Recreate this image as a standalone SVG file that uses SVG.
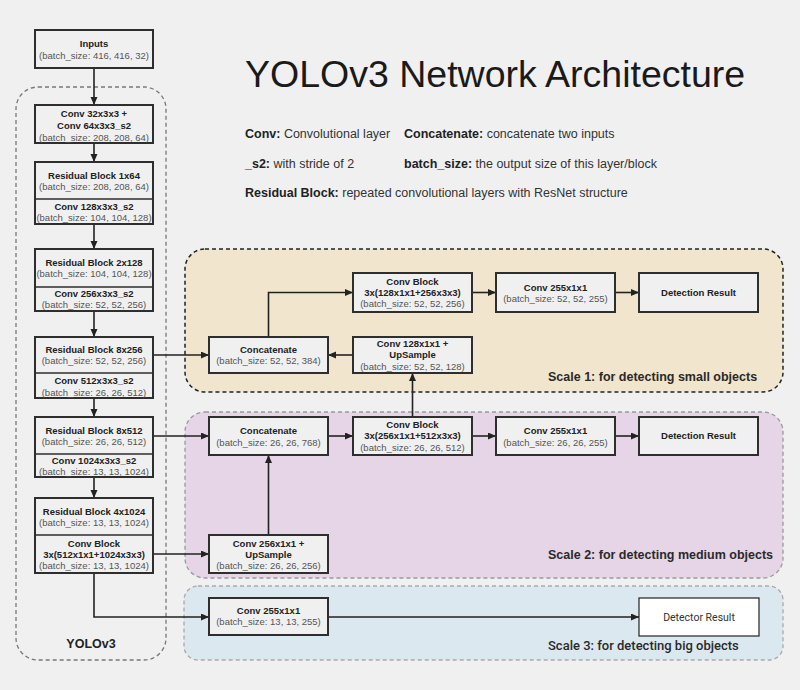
<svg xmlns="http://www.w3.org/2000/svg" width="800" height="690" viewBox="0 0 800 690">
  <style>
    .bg { fill: #f0f0f0; }
    .box { fill: #f0f0f0; stroke: #2e2e2e; stroke-width: 2; }
    .div { stroke: #2e2e2e; stroke-width: 1.6; }
    .t { font-family: "Liberation Sans", Arial, sans-serif; font-size: 9.5px; font-weight: bold; fill: #222; text-anchor: middle; }
    .s { font-family: "Liberation Sans", Arial, sans-serif; font-size: 9.5px; fill: #555; text-anchor: middle; }
    .lg { font-family: "Liberation Sans", Arial, sans-serif; font-size: 12.5px; fill: #333; }
    .lgb { font-weight: bold; fill: #222; }
    .title { font-family: "Liberation Sans", Arial, sans-serif; font-size: 37.5px; fill: #1a1a1a; }
    .scl { font-family: "Liberation Sans", Arial, sans-serif; font-size: 12.5px; font-weight: bold; fill: #2a2a2a; }
    .wire { fill: none; stroke: #222; stroke-width: 1.6; }
  </style>
  <defs>
    <marker id="arrow" markerUnits="userSpaceOnUse" markerWidth="9" markerHeight="8" refX="8" refY="3.5" orient="auto">
      <path d="M0,0 L8,3.5 L0,7 Z" fill="#222"/>
    </marker>
  </defs>

  <rect class="bg" x="0" y="0" width="800" height="690"/>

  <!-- grouping panels -->
  <g id="yolov3-panel">
    <rect x="16" y="87" width="150" height="573" rx="22" fill="none" stroke="#777" stroke-width="1.3" stroke-dasharray="4,3"/>
    <text x="91" y="648" font-family="Liberation Sans, Arial, sans-serif" font-size="12.5" font-weight="bold" fill="#222" text-anchor="middle">YOLOv3</text>
  </g>
  <g id="scale1-panel">
    <rect x="185" y="249" width="598" height="143" rx="20" fill="#f1e5cd" stroke="#222" stroke-width="1.5" stroke-dasharray="4,3"/>
    <text class="scl" x="548" y="381">Scale 1: for detecting small objects</text>
  </g>
  <g id="scale2-panel">
    <rect x="185" y="412" width="598" height="166" rx="20" fill="#e5d5e7" stroke="#999" stroke-width="1.3" stroke-dasharray="4,3"/>
    <text class="scl" x="548" y="559">Scale 2: for detecting medium objects</text>
  </g>
  <g id="scale3-panel">
    <rect x="184" y="586" width="599" height="74" rx="14" fill="#dbe8f0" stroke="#aaa" stroke-width="1.3" stroke-dasharray="4,3"/>
    <text x="548" y="650" font-family="Roboto, 'Liberation Sans', sans-serif" font-size="13" font-weight="500" fill="#2a2a2a">Scale 3: for detecting big objects</text>
  </g>

  <!-- title and legend -->
  <g id="legend">
    <text class="title" x="245" y="87">YOLOv3 Network Architecture</text>
    <text class="lg" x="245" y="138"><tspan class="lgb">Conv:</tspan> Convolutional layer</text>
    <text class="lg" x="404" y="138"><tspan class="lgb">Concatenate:</tspan> concatenate two inputs</text>
    <text class="lg" x="245" y="168"><tspan class="lgb">_s2:</tspan> with stride of 2</text>
    <text class="lg" x="404" y="168"><tspan class="lgb">batch_size:</tspan> the output size of this layer/block</text>
    <text class="lg" x="245" y="197"><tspan class="lgb">Residual Block:</tspan> repeated convolutional layers with ResNet structure</text>
  </g>

  <!-- connectors -->
  <g id="connectors" class="wire" marker-end="url(#arrow)">
    <path d="M94,68 V105"/>
    <path d="M94,143 V162"/>
    <path d="M94,224 V249"/>
    <path d="M94,311 V337"/>
    <path d="M94,398 V417"/>
    <path d="M94,477 V498"/>
    <path d="M153,355 H209"/>
    <path d="M268.5,337 V292.5 H353"/>
    <path d="M472,292.5 H496"/>
    <path d="M615,292.5 H639"/>
    <path d="M353,355 H328"/>
    <path d="M412.5,417 V373"/>
    <path d="M153,436 H209"/>
    <path d="M328,436 H353"/>
    <path d="M472,436 H496"/>
    <path d="M615,436 H639"/>
    <path d="M268.5,535 V455"/>
    <path d="M153,554 H209"/>
    <path d="M94,573 V617 H209"/>
    <path d="M328,617 H639"/>
  </g>

  <!-- backbone -->
  <g id="inputs">
    <rect class="box" x="35" y="30" width="118" height="38"/>
    <text class="t" x="94" y="46.5">Inputs</text>
    <text class="s" x="94" y="58.5">(batch_size: 416, 416, 32)</text>
  </g>
  <g id="conv-32-64">
    <rect class="box" x="35" y="105" width="118" height="38"/>
    <text class="t" x="94" y="116.5">Conv 32x3x3 +</text>
    <text class="t" x="94" y="128.5">Conv 64x3x3_s2</text>
    <text class="s" x="94" y="140.5">(batch_size: 208, 208, 64)</text>
  </g>
  <g id="res-1x64">
    <rect class="box" x="35" y="162" width="118" height="62"/>
    <line class="div" x1="35" y1="199" x2="153" y2="199"/>
    <text class="t" x="94" y="178.5">Residual Block 1x64</text>
    <text class="s" x="94" y="189.5">(batch_size: 208, 208, 64)</text>
    <text class="t" x="94" y="209.5">Conv 128x3x3_s2</text>
    <text class="s" x="94" y="220.5">(batch_size: 104, 104, 128)</text>
  </g>
  <g id="res-2x128">
    <rect class="box" x="35" y="249" width="118" height="62"/>
    <line class="div" x1="35" y1="287" x2="153" y2="287"/>
    <text class="t" x="94" y="266">Residual Block 2x128</text>
    <text class="s" x="94" y="277">(batch_size: 104, 104, 128)</text>
    <text class="t" x="94" y="296.5">Conv 256x3x3_s2</text>
    <text class="s" x="94" y="307.5">(batch_size: 52, 52, 256)</text>
  </g>
  <g id="res-8x256">
    <rect class="box" x="35" y="337" width="118" height="61"/>
    <line class="div" x1="35" y1="373" x2="153" y2="373"/>
    <text class="t" x="94" y="352.5">Residual Block 8x256</text>
    <text class="s" x="94" y="364">(batch_size: 52, 52, 256)</text>
    <text class="t" x="94" y="384">Conv 512x3x3_s2</text>
    <text class="s" x="94" y="395.5">(batch_size: 26, 26, 512)</text>
  </g>
  <g id="res-8x512">
    <rect class="box" x="35" y="417" width="118" height="60"/>
    <line class="div" x1="35" y1="454" x2="153" y2="454"/>
    <text class="t" x="94" y="434">Residual Block 8x512</text>
    <text class="s" x="94" y="445">(batch_size: 26, 26, 512)</text>
    <text class="t" x="94" y="464">Conv 1024x3x3_s2</text>
    <text class="s" x="94" y="475">(batch_size: 13, 13, 1024)</text>
  </g>
  <g id="res-4x1024">
    <rect class="box" x="35" y="498" width="118" height="75"/>
    <line class="div" x1="35" y1="535" x2="153" y2="535"/>
    <text class="t" x="94" y="515">Residual Block 4x1024</text>
    <text class="s" x="94" y="526">(batch_size: 13, 13, 1024)</text>
    <text class="t" x="94" y="546.5">Conv Block</text>
    <text class="t" x="94" y="557.5">3x(512x1x1+1024x3x3)</text>
    <text class="s" x="94" y="569">(batch_size: 13, 13, 1024)</text>
  </g>

  <!-- scale 1 -->
  <g id="s1-concat">
    <rect class="box" x="209" y="337" width="119" height="36"/>
    <text class="t" x="268.5" y="352.5">Concatenate</text>
    <text class="s" x="268.5" y="364">(batch_size: 52, 52, 384)</text>
  </g>
  <g id="s1-convblock">
    <rect class="box" x="353" y="273" width="119" height="39"/>
    <text class="t" x="412.5" y="285">Conv Block</text>
    <text class="t" x="412.5" y="296">3x(128x1x1+256x3x3)</text>
    <text class="s" x="412.5" y="307.3">(batch_size: 52, 52, 256)</text>
  </g>
  <g id="s1-upsample">
    <rect class="box" x="353" y="337" width="119" height="36"/>
    <text class="t" x="412.5" y="347.3">Conv 128x1x1 +</text>
    <text class="t" x="412.5" y="358.3">UpSample</text>
    <text class="s" x="412.5" y="370">(batch_size: 52, 52, 128)</text>
  </g>
  <g id="s1-conv255">
    <rect class="box" x="496" y="273" width="119" height="39"/>
    <text class="t" x="555.5" y="290.5">Conv 255x1x1</text>
    <text class="s" x="555.5" y="301.5">(batch_size: 52, 52, 255)</text>
  </g>
  <g id="s1-result">
    <rect class="box" x="639" y="273" width="119" height="39"/>
    <text class="t" x="698.5" y="296">Detection Result</text>
  </g>

  <!-- scale 2 -->
  <g id="s2-concat">
    <rect class="box" x="209" y="417" width="119" height="38"/>
    <text class="t" x="268.5" y="434">Concatenate</text>
    <text class="s" x="268.5" y="445.5">(batch_size: 26, 26, 768)</text>
  </g>
  <g id="s2-convblock">
    <rect class="box" x="353" y="417" width="119" height="38"/>
    <text class="t" x="412.5" y="428.3">Conv Block</text>
    <text class="t" x="412.5" y="439.3">3x(256x1x1+512x3x3)</text>
    <text class="s" x="412.5" y="450.6">(batch_size: 26, 26, 512)</text>
  </g>
  <g id="s2-conv255">
    <rect class="box" x="496" y="417" width="119" height="38"/>
    <text class="t" x="555.5" y="434">Conv 255x1x1</text>
    <text class="s" x="555.5" y="445.5">(batch_size: 26, 26, 255)</text>
  </g>
  <g id="s2-result">
    <rect class="box" x="639" y="417" width="119" height="38"/>
    <text class="t" x="698.5" y="439.3">Detection Result</text>
  </g>
  <g id="s2-upsample">
    <rect class="box" x="209" y="535" width="119" height="38"/>
    <text class="t" x="268.5" y="547.3">Conv 256x1x1 +</text>
    <text class="t" x="268.5" y="558.3">UpSample</text>
    <text class="s" x="268.5" y="569">(batch_size: 26, 26, 256)</text>
  </g>

  <!-- scale 3 -->
  <g id="s3-conv255">
    <rect class="box" x="209" y="598" width="119" height="37"/>
    <text class="t" x="268.5" y="614.3">Conv 255x1x1</text>
    <text class="s" x="268.5" y="625.3">(batch_size: 13, 13, 255)</text>
  </g>
  <g id="s3-result">
    <rect x="639" y="598" width="120" height="38" fill="#ffffff" stroke="#222" stroke-width="1.2"/>
    <text x="699" y="621" font-family="Roboto, 'Liberation Sans', sans-serif" font-size="10.5" fill="#333" text-anchor="middle">Detector Result</text>
  </g>
</svg>
